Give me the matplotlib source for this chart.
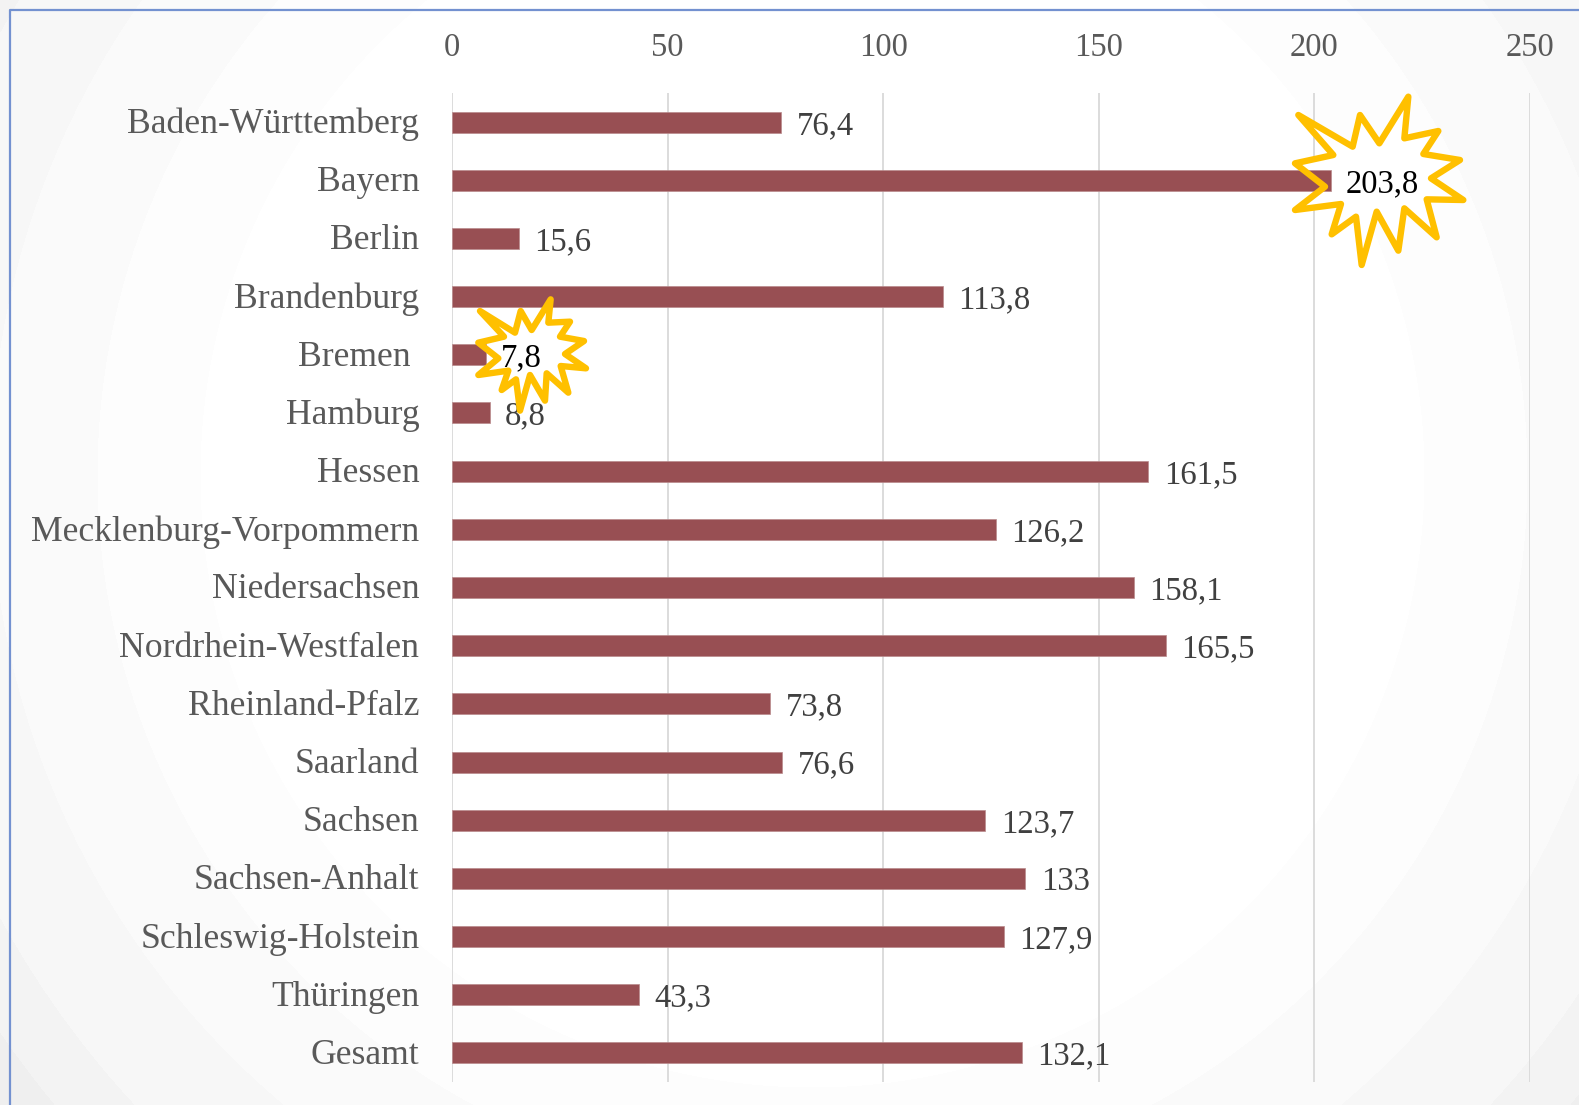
import matplotlib
matplotlib.use("Agg")
import matplotlib.pyplot as plt
from matplotlib.patches import Polygon
from matplotlib.transforms import Affine2D, ScaledTranslation
import numpy as np

W, H = 1579, 1105

laender = ["Baden-Württemberg", "Bayern", "Berlin", "Brandenburg", "Bremen ", "Hamburg", "Hessen",
           "Mecklenburg-Vorpommern", "Niedersachsen", "Nordrhein-Westfalen", "Rheinland-Pfalz",
           "Saarland", "Sachsen", "Sachsen-Anhalt", "Schleswig-Holstein", "Thüringen", "Gesamt"]
werte = [76.4, 203.8, 15.6, 113.8, 7.8, 8.8, 161.5, 126.2, 158.1, 165.5, 73.8, 76.6, 123.7, 133, 127.9, 43.3, 132.1]
xticks = [0, 50, 100, 150, 200, 250]
highlight = ["Bayern", "Bremen "]

# star outlines in zoom pixels
big_star = [(145,345),(308,440),(330,345),(388,430),(475,290),(463,415),(565,393),(520,462),
            (630,480),(543,535),(640,600),(530,598),(560,712),(463,625),(445,752),(380,635),
            (335,795),(318,650),(245,703),(273,612),(135,630),(225,560),(135,490),(250,465)]
small_star = [(150,93),(255,158),(272,93),(305,150),(362,58),(355,128),(420,125),(390,170),
              (462,183),(405,222),(468,265),(392,258),(415,338),(350,280),(345,362),(300,285),
              (270,392),(258,298),(215,330),(235,272),(145,285),(205,235),(145,188),(222,170)]

plt.rcParams['font.family'] = ['Liberation Serif', 'DejaVu Serif']

fig = plt.figure(figsize=(W / 100, H / 100), dpi=100)

# background: banded radial gradient plus the blue frame
bg = fig.add_axes([0, 0, 1, 1], zorder=0)
yy, xx = np.mgrid[0:H, 0:W]
r = np.hypot(xx - 812, yy - 475)
radii = [612, 715, 822, 925, 985, 1030]
greys = [1.0, 0.99, 0.98, 0.965, 0.95, 0.935, 0.92]
bg.imshow(np.array(greys)[np.digitize(r, radii)], cmap="gray", vmin=0, vmax=1, aspect="auto",
          extent=(0, W, H, 0), interpolation="nearest")
bg.plot([10, 10, W], [H, 10, 10], color="#7391d0", lw=1.6)
bg.set_xlim(0, W)
bg.set_ylim(H, 0)
bg.axis("off")

ax = fig.add_axes([452 / W, 1 - 1082 / H, (1530 - 452) / W, (1082 - 93) / H], zorder=1)
ax.patch.set_alpha(0)
y = np.arange(len(laender))
ax.barh(y, werte, height=0.36, color="#984f53", edgecolor="#b98a8c", linewidth=0.5, zorder=3)
ax.set_ylim(len(laender) - 0.5, -0.5)
ax.set_xlim(0, 250)
ax.set_yticks(y, laender)
ax.set_xticks(xticks)
ax.xaxis.tick_top()
ax.tick_params(axis="y", length=0, pad=23.5, labelsize=25.7, labelcolor="#595959")
ax.tick_params(axis="x", length=0, pad=21.5, labelsize=23.5, labelcolor="#595959")
ax.grid(axis="x", color="#d9d9d9", lw=1.3, zorder=1)
ax.set_axisbelow(True)
for s in ax.spines.values():
    s.set_visible(False)
# names sit a little higher than the bars
shift = ScaledTranslation(0, 1.5 / 100, fig.dpi_scale_trans)
for lab in ax.get_yticklabels():
    lab.set_transform(lab.get_transform() + shift)

# white star bodies sit under the bars, yellow outlines on top of them
px = Affine2D().scale(1 / W, -1 / H).translate(0, 1) + fig.transFigure
for pts, ox, oy in [(big_star, 1250, 0), (small_star, 430, 280)]:
    poly = [(ox + a / 3, oy + b / 3) for a, b in pts]
    ax.add_patch(Polygon(poly, closed=True, transform=px, facecolor="white", edgecolor="none",
                         clip_on=False, zorder=2))
    ax.add_patch(Polygon(poly, closed=True, transform=px, fill=False, edgecolor="#ffc000",
                         lw=4.6, joinstyle="round", clip_on=False, zorder=5))

for i, (name, v) in enumerate(zip(laender, werte)):
    txt = f"{v:g}".replace(".", ",")
    hot = name in highlight
    ax.annotate(txt, (v, i), xytext=(11, -2.5), textcoords="offset points", va="center", ha="left",
                fontsize=23.5, color="black" if hot else "#404040", zorder=6 if hot else 4,
                annotation_clip=False)

fig.savefig("out.png", dpi=100)
